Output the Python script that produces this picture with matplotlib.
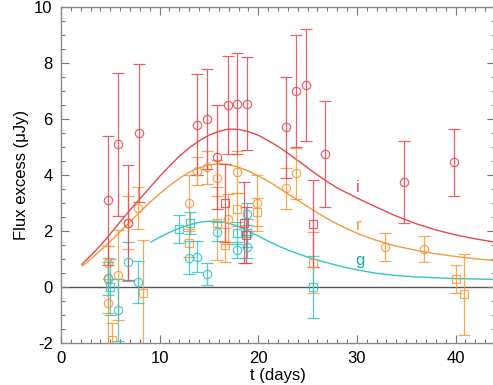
import matplotlib
matplotlib.use("Agg")
import matplotlib.pyplot as plt
from matplotlib.ticker import MultipleLocator

# light-curve flux excess in i, r, g with model curves

RED = "#e8474f"
ORANGE = "#f59a3c"
CYAN = "#32c6c6"

# i band circles
i_circ_t = [4.8, 5.8, 6.8, 7.9, 13.8, 14.8, 15.8, 16.9, 17.8, 18.9, 22.8, 23.8, 24.8, 26.8, 34.8, 39.8]
i_circ_y = [3.1, 5.1, 2.3, 5.5, 5.8, 6.0, 4.65, 6.5, 6.55, 6.55, 5.7, 7.0, 7.2, 4.75, 3.75, 4.45]
i_circ_e = [2.3, 2.55, 2.05, 2.45, 1.8, 1.8, 1.85, 1.75, 1.8, 1.65, 1.8, 2.0, 2.0, 1.9, 1.48, 1.2]
# i band squares
i_sq_t = [16.6, 18.6, 18.8, 25.6]
i_sq_y = [3.0, 2.3, 1.85, 2.26]
i_sq_e = [1.4, 1.45, 1.0, 1.56]

# r band circles
r_circ_t = [4.8, 4.8, 4.8, 5.8, 6.8, 7.85, 13.0, 13.8, 14.8, 15.8, 16.9, 17.8, 19.9, 22.8, 23.8, 32.9, 36.85]
r_circ_y = [0.87, 0.27, -0.56, 0.43, 2.3, 2.81, 2.99, 4.15, 4.27, 3.9, 2.42, 4.1, 2.99, 3.52, 4.06, 1.44, 1.36]
r_circ_e = [0.6, 1.2, 1.6, 1.6, 0.95, 0.75, 1.0, 0.5, 0.6, 0.65, 0.9, 0.75, 1.0, 0.72, 0.9, 0.5, 0.45]
# r band squares
r_sq_t = [5.2, 8.36, 13.0, 15.8, 16.65, 17.8, 19.9, 25.6, 40.0, 40.84]
r_sq_y = [-1.9, -0.23, 1.58, 2.27, 1.5, 2.77, 2.69, 0.87, 0.30, -0.26]
r_sq_e = [0.6, 1.9, 0.5, 1.3, 0.6, 0.6, 0.5, 1.1, 0.5, 1.45]

# g band circles
g_circ_t = [4.8, 5.8, 6.8, 7.85, 13.0, 13.8, 14.8, 15.8, 17.8, 18.9, 18.9]
g_circ_y = [0.31, -0.82, 0.90, 0.17, 1.05, 1.08, 0.46, 1.98, 1.32, 1.44, 2.6]
g_circ_e = [0.6, 1.1, 0.7, 0.75, 0.6, 0.55, 0.4, 0.35, 0.3, 0.4, 0.4]
# g band squares
g_sq_t = [5.0, 11.95, 13.05, 17.8, 18.9, 25.6]
g_sq_y = [0.0, 2.07, 2.29, 1.92, 1.92, 0.0]
g_sq_e = [1.0, 0.5, 0.4, 0.4, 0.5, 1.1]

# model curves
i_mod_t = [2.1, 3, 4, 5, 6, 7, 8, 9, 10, 11, 12, 13, 14, 15, 16, 17, 18, 19, 20, 21, 22, 23, 24, 25, 26, 27, 28, 30, 32, 34, 36, 38, 40, 42, 44]
i_mod_y = [0.8, 1.12, 1.48, 1.9, 2.33, 2.75, 3.15, 3.55, 3.95, 4.32, 4.67, 4.97, 5.22, 5.42, 5.56, 5.64, 5.63, 5.55, 5.42, 5.23, 5.02, 4.78, 4.52, 4.26, 4.0, 3.76, 3.54, 3.18, 2.85, 2.53, 2.26, 2.04, 1.86, 1.72, 1.6]
r_mod_t = [2.2, 3, 4, 5, 6, 7, 8, 9, 10, 11, 12, 13, 14, 15, 16, 17, 18, 19, 20, 21, 22, 23, 24, 25, 26, 27, 28, 30, 32, 34, 36, 38, 40, 42, 44]
r_mod_y = [0.75, 1.0, 1.3, 1.63, 1.98, 2.33, 2.68, 3.02, 3.33, 3.62, 3.88, 4.1, 4.26, 4.36, 4.4, 4.37, 4.28, 4.14, 3.97, 3.78, 3.56, 3.33, 3.1, 2.87, 2.65, 2.44, 2.25, 1.92, 1.66, 1.46, 1.31, 1.19, 1.09, 1.01, 0.94]
g_mod_t = [9.1, 10, 11, 12, 13, 14, 15, 16, 17, 18, 19, 20, 21, 22, 23, 24, 25, 26, 28, 30, 32, 34, 36, 40, 44]
g_mod_y = [1.6, 1.78, 1.95, 2.1, 2.22, 2.31, 2.35, 2.34, 2.28, 2.16, 2.0, 1.82, 1.64, 1.47, 1.32, 1.19, 1.07, 0.96, 0.77, 0.61, 0.49, 0.41, 0.36, 0.3, 0.27]

plt.rcParams["font.family"] = ["Liberation Sans", "DejaVu Sans"]
plt.rcParams["axes.unicode_minus"] = False

fig = plt.figure(figsize=(4.93, 3.85), dpi=100)
ax = fig.add_axes([61 / 493, 42 / 385, 1.0 - 61 / 493 + 0.004, 336 / 385])

ax.axhline(0, color="#555555", lw=1.0, zorder=1)

def draw(t, y, e, color, marker):
    ax.errorbar(t, y, yerr=e, fmt=marker, color=color, mfc="none", mec=color,
                ms=6, mew=0.9, elinewidth=0.9, capsize=4, capthick=0.9, alpha=0.85, zorder=3)

draw(r_circ_t, r_circ_y, r_circ_e, ORANGE, "o")
draw(r_sq_t, r_sq_y, r_sq_e, ORANGE, "s")
draw(g_circ_t, g_circ_y, g_circ_e, CYAN, "o")
draw(g_sq_t, g_sq_y, g_sq_e, CYAN, "s")
draw(i_circ_t, i_circ_y, i_circ_e, RED, "o")
draw(i_sq_t, i_sq_y, i_sq_e, RED, "s")

ax.plot(i_mod_t, i_mod_y, color=RED, lw=1.0, zorder=2)
ax.plot(r_mod_t, r_mod_y, color=ORANGE, lw=1.0, zorder=2)
ax.plot(g_mod_t, g_mod_y, color=CYAN, lw=1.0, zorder=2)

ax.text(30.1, 3.55, "i", color=RED, fontsize=12, ha="center", va="center")
ax.text(30.2, 2.2, "r", color=ORANGE, fontsize=12, ha="center", va="center")
ax.text(30.3, 0.95, "g", color="#1aa8a8", fontsize=12, ha="center", va="center")

ax.set_xlim(0, 44)
ax.set_ylim(-2, 10)
ax.xaxis.set_major_locator(MultipleLocator(10))
ax.xaxis.set_minor_locator(MultipleLocator(1))
ax.yaxis.set_major_locator(MultipleLocator(2))
ax.yaxis.set_minor_locator(MultipleLocator(0.5))
ax.tick_params(which="both", direction="in", top=True, right=True, colors="#777777",
               labelcolor="black", labelsize=12, width=0.8)
ax.tick_params(which="major", length=6, pad=6)
ax.tick_params(which="minor", length=3)
for s in ax.spines.values():
    s.set_color("#888888")
    s.set_linewidth(1.0)

ax.set_xlabel("t (days)", fontsize=12, labelpad=1)
ax.set_ylabel("Flux excess (μJy)", fontsize=12, labelpad=4)

fig.savefig("out.png", dpi=100)
